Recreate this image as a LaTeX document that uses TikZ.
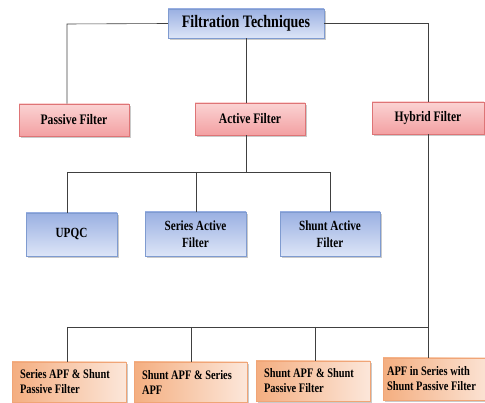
\documentclass[tikz,border=0pt]{standalone}
\usepackage{fontspec}
\setmainfont{Liberation Serif}[FakeStretch=0.8]
\usetikzlibrary{shadows}

\definecolor{blueD}{HTML}{9AB0E2}
\definecolor{blueL}{HTML}{DDE5F7}
\definecolor{blueB}{HTML}{7F9BD0}
\definecolor{pinkD}{HTML}{F3A0A2}
\definecolor{pinkL}{HTML}{FBD3D3}
\definecolor{pinkB}{HTML}{DE7476}
\definecolor{orngD}{HTML}{F4AE80}
\definecolor{orngL}{HTML}{FCE7DA}
\definecolor{orngB}{HTML}{F0A577}

\tikzset{
	box/.style={draw, line width=0.5pt, inner sep=0pt, font=\bfseries,
		drop shadow={shadow xshift=2pt, shadow yshift=-2pt, fill=black!35, opacity=.6}},
	bluebox/.style={box, draw=blueB, top color=blueD, bottom color=blueL, align=center},
	pinkbox/.style={box, draw=pinkB, top color=pinkL, bottom color=pinkD},
	orngbox/.style={box, draw=orngB, left color=orngD, right color=orngL,
		align=flush left, minimum height=40pt, font=\bfseries\fontsize{13}{15}\selectfont},
	link/.style={draw=black!75, line width=0.6pt}
}

\begin{document}
\begin{tikzpicture}[x=1pt,y=-1pt]
	\useasboundingbox (0,0) rectangle (485,403);
	% top level
	\node[bluebox, minimum width=156pt, minimum height=29pt,
		font=\bfseries\fontsize{17.5}{20}\selectfont] (top) at (246,23.5) {Filtration Techniques};
	% second level
	\node[pinkbox, minimum width=110pt, minimum height=32pt,
		font=\bfseries\fontsize{14.5}{17}\selectfont] (passive) at (74,120) {Passive Filter};
	\node[pinkbox, minimum width=110pt, minimum height=32pt,
		font=\bfseries\fontsize{14.5}{17}\selectfont] (active) at (250,119) {Active Filter};
	\node[pinkbox, minimum width=112pt, minimum height=32pt,
		font=\bfseries\fontsize{14.5}{17}\selectfont] (hybrid) at (428,118) {Hybrid Filter};
	% active filter types
	\node[bluebox, minimum width=91pt, minimum height=43pt,
		font=\bfseries\fontsize{14}{16.5}\selectfont] (upqc) at (71.5,234.5) {UPQC};
	\node[bluebox, minimum width=101pt, minimum height=44pt,
		font=\bfseries\fontsize{14}{16.5}\selectfont] (seriesaf) at (195.5,234) {Series Active\\Filter};
	\node[bluebox, minimum width=100pt, minimum height=44pt,
		font=\bfseries\fontsize{14}{16.5}\selectfont] (shuntaf) at (330,234) {Shunt Active\\Filter};
	% hybrid filter types
	\node[orngbox, minimum width=114pt, text width=98pt] (hyb1) at (69,382) {Series APF \& Shunt\\Passive Filter};
	\node[orngbox, minimum width=113pt, text width=97pt] (hyb2) at (190.5,382) {Shunt APF \& Series\\APF};
	\node[orngbox, minimum width=114pt, text width=98pt] (hyb3) at (313,381) {Shunt APF \& Shunt\\Passive Filter};
	\node[orngbox, minimum width=112pt, text width=104pt, minimum height=42pt] (hyb4) at (439,379) {APF in Series with\\Shunt Passive Filter};

	% buses
	\coordinate (tbus) at (67,24);
	\coordinate (abus) at (67,172);
	\coordinate (abusR) at (330,172);
	\coordinate (hbus) at (67,327);

	% connectors
	\draw[link] (top.west) -- (tbus) -- (tbus |- passive.north);
	\draw[link] (top.south) -- (top.south |- active.north);
	\draw[link] (top.east) -| (hybrid.north);
	\draw[link] (top.south |- active.south) -- (top.south |- abus);
	\draw[link] (abus) -- (abusR);
	\draw[link] (abus) -- (abus |- upqc.north);
	\draw[link] (196,172) -- (196,0 |- seriesaf.north);
	\draw[link] (abusR) -- (shuntaf.north);
	\draw[link] (hybrid.south) -- (hybrid.south |- hyb4.north);
	\draw[link] (hbus) -- (hybrid.south |- hbus);
	\draw[link] (hbus) -- (hbus |- hyb1.north);
	\draw[link] (191,327) -- (191,0 |- hyb2.north);
	\draw[link] (315,327) -- (315,0 |- hyb3.north);
\end{tikzpicture}
\end{document}
